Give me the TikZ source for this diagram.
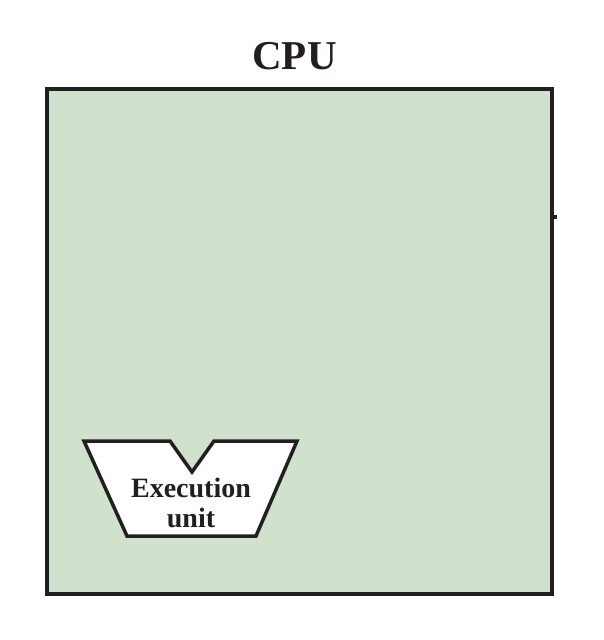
\documentclass[tikz,border=0pt]{standalone}
\usepackage{fontspec}
\setmainfont{Liberation Serif}
\definecolor{cpufill}{RGB}{208,226,206}
\definecolor{ink}{RGB}{35,31,32}
\begin{document}
\begin{tikzpicture}[x=1pt,y=-1pt,
  cpubox/.style={draw=ink,line width=4pt,fill=cpufill},
  unitshape/.style={draw=ink,line width=3.5pt,fill=white,line join=miter},
  lbl/.style={font=\bfseries\fontsize{28}{31}\selectfont,text=ink,align=center,inner sep=0pt}]
\useasboundingbox (0,0) rectangle (604,640);
\node[font=\bfseries\fontsize{41}{45}\selectfont,text=ink,anchor=base,inner sep=0pt] (title) at (294.5,69) {CPU};
\draw[cpubox] (46.5,89) rectangle (552,594);
\coordinate (tickA) at (553,216.5);
\coordinate (tickB) at (557,216.5);
\draw[ink,line width=4pt] (tickA) -- (tickB);
\draw[unitshape] (84,441) -- (170,441) -- (192,472) -- (214,441) -- (297,441) -- (256,536) -- (127,536) -- cycle;
\node[lbl,anchor=base] (exec) at (191,497) {Execution};
\node[lbl,anchor=base] (unit) at (191,527) {unit};
\end{tikzpicture}
\end{document}
